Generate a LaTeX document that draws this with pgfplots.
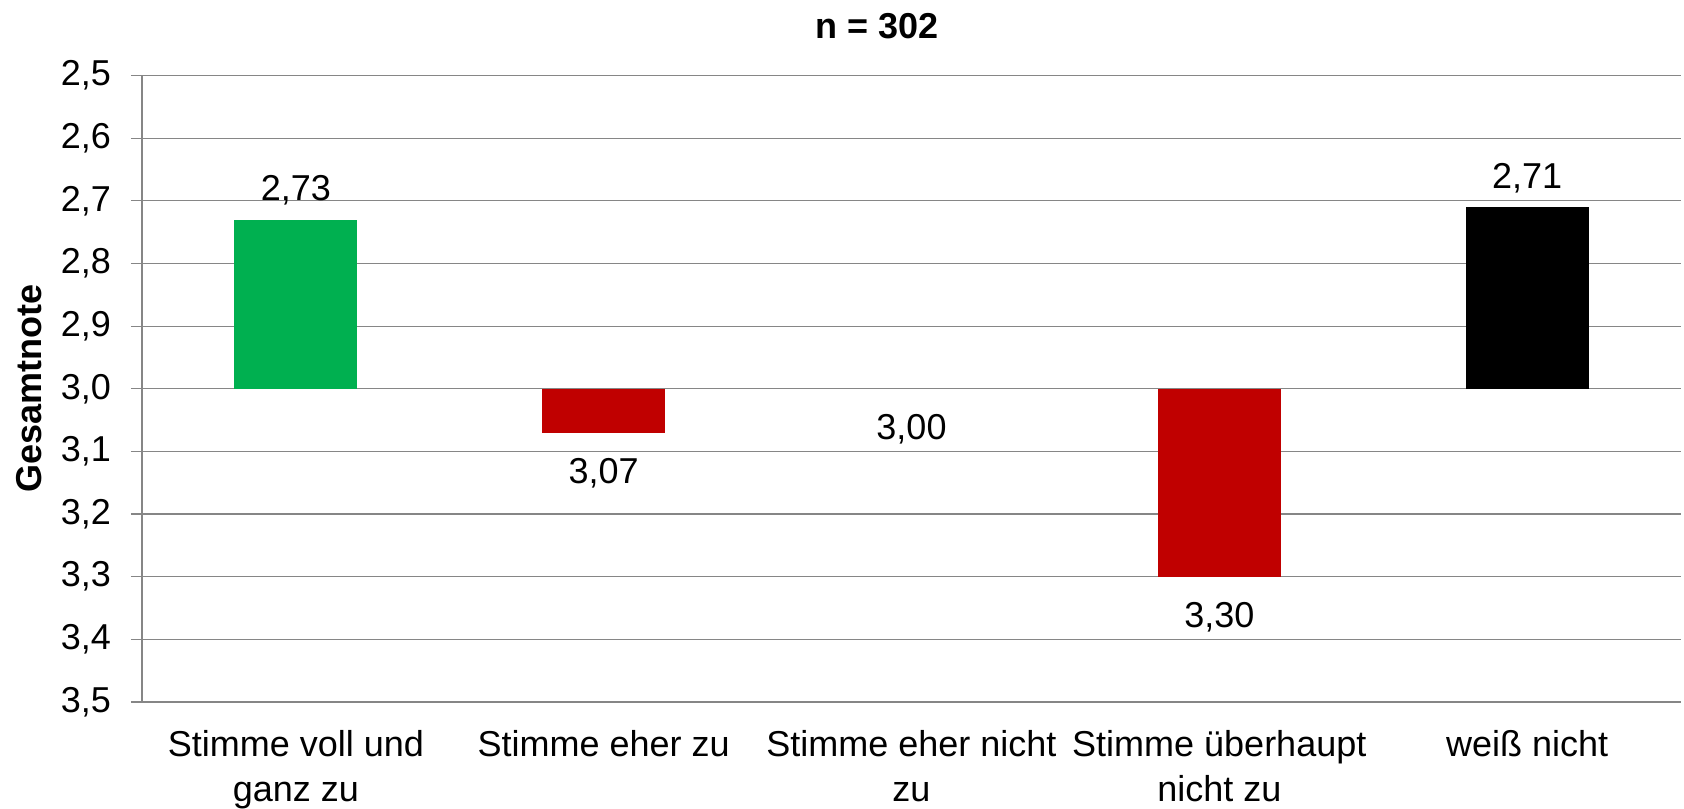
\documentclass[border=0pt]{standalone}
\usepackage{pgfplots}
\pgfplotsset{compat=1.18}
\usepackage{fontspec}
\setmainfont{Liberation Sans}
\definecolor{gridgray}{RGB}{134,134,134}
\definecolor{bargreen}{RGB}{0,176,80}
\definecolor{barred}{RGB}{192,0,0}
\pgfplotstableread{
x y lab
0 2.73 2,73
4 2.71 2,71
}\uplabels
\pgfplotstableread{
x y lab
1 3.07 3,07
2 3.00 3,00
3 3.30 3,30
}\downlabels
\begin{document}
\begin{tikzpicture}
\useasboundingbox (-71pt,-53pt) rectangle (771pt,351pt);
\begin{axis}[
  name=ax, at={(0,0)}, anchor=south west,
  scale only axis, width=769.5pt, height=313.25pt,
  xmin=-0.5, xmax=4.5, ymin=2.5, ymax=3.5, y dir=reverse,
  ytick={2.5,2.6,2.7,2.8,2.9,3.0,3.1,3.2,3.3,3.4,3.5},
  xtick={0,1,2,3,4},
  xticklabels={{Stimme voll und\\ganz zu},{Stimme eher zu},{Stimme eher nicht\\zu},{Stimme überhaupt\\nicht zu},{weiß nicht}},
  xticklabel style={align=center, anchor=north, font=\fontsize{18}{22.5}\selectfont, yshift=-5pt},
  ymajorgrids, grid style={gridgray, line width=0.6pt},
  axis line style={draw=none},
  tick align=outside, ytick pos=left, major tick length=5.5pt,
  ytick style={gridgray, line width=0.6pt}, xtick style={draw=none},
  yticklabel style={font=\fontsize{18}{21}\selectfont, xshift=-6.5pt,
    /pgf/number format/.cd, use comma, fixed, fixed zerofill, precision=1, assume math mode=true},
  clip=false,
]
\addplot[fill=bargreen, draw=none] coordinates {(-0.2,3) (-0.2,2.73) (0.2,2.73) (0.2,3)} -- cycle;
\addplot[fill=barred, draw=none] coordinates {(0.8,3) (0.8,3.07) (1.2,3.07) (1.2,3)} -- cycle;
\addplot[fill=barred, draw=none] coordinates {(2.8,3) (2.8,3.30) (3.2,3.30) (3.2,3)} -- cycle;
\addplot[fill=black, draw=none] coordinates {(3.8,3) (3.8,2.71) (4.2,2.71) (4.2,3)} -- cycle;
\addplot[draw=none, mark=none, nodes near coords, point meta=explicit symbolic,
  nodes near coords style={anchor=base, yshift=9.5pt, font=\fontsize{18}{21}\selectfont, text=black}]
  table[x=x, y=y, meta=lab] {\uplabels};
\addplot[draw=none, mark=none, nodes near coords, point meta=explicit symbolic,
  nodes near coords style={anchor=base, yshift=-25.5pt, font=\fontsize{18}{21}\selectfont, text=black}]
  table[x=x, y=y, meta=lab] {\downlabels};
\end{axis}
\draw[gridgray, line width=0.6pt] (ax.south west) -- (ax.north west);
\node[anchor=base, font=\bfseries\fontsize{18}{21}\selectfont] at ([xshift=367.5pt, yshift=18.25pt]ax.north west) {n = 302};
\node[rotate=90, anchor=base, font=\bfseries\fontsize{18}{21}\selectfont] at ([xshift=-50pt]ax.west) {Gesamtnote};
\end{tikzpicture}
\end{document}
